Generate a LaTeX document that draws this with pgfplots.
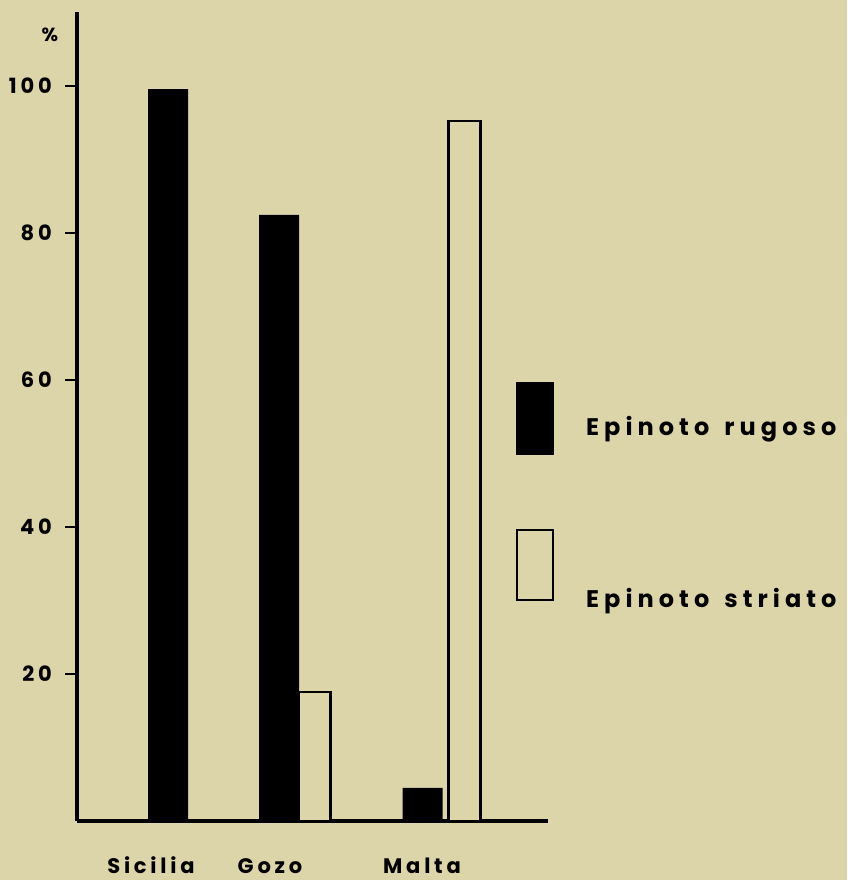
\documentclass[border=0pt]{standalone}
\usepackage{fontspec}
\setmainfont{Poppins}[LetterSpace=18]
\usepackage{pgfplots}
\pgfplotsset{compat=1.18}
\definecolor{paper}{RGB}{221,213,170}
\begin{document}
\begin{tikzpicture}[x=1pt,y=1pt,font=\bfseries]
\fill[paper] (0,0) rectangle (847,880);
\path[use as bounding box] (0,0) rectangle (847,880);
\begin{axis}[
  at={(77pt,59pt)}, anchor=south west,
  scale only axis, width=471pt, height=809pt,
  xmin=77, xmax=548, ymin=0, ymax=110,
  axis x line*=bottom, axis y line*=left,
  axis line style={line width=3.5pt, -},
  ytick={20,40,60,80,100},
  tick align=outside, major tick length=12pt,
  ytick style={line width=2pt, black},
  xtick={151,270,422},
  xticklabels={Sicilia,Gozo,Malta},
  xtick style={draw=none},
  xticklabel style={anchor=base, yshift=-41pt},
  yticklabel style={anchor=east, inner sep=0pt, xshift=-13pt},
  tick label style={font=\bfseries\fontsize{21}{26}\selectfont},
  /pgf/number format/assume math mode=true,
  clip=false,
]
% Epinoto rugoso
\addplot[ybar, bar shift=0pt, bar width=40, fill=black, draw=none]
  coordinates {(168,99.5) (279,82.4) (422.5,4.5)};
% Epinoto striato
\addplot[ybar, bar shift=0pt, bar width=32, fill=paper, draw=black, line width=2.2pt]
  coordinates {(314.5,17.5) (464.5,95.2)};
\end{axis}
\node[font=\bfseries\fontsize{19}{24}\selectfont] at (50,845) {\%};
% legend
\fill[black] (516,425) rectangle (554,498);
\draw[line width=2pt, fill=paper] (517,280) rectangle (553,350);
\node[anchor=base west, inner sep=0pt, font=\bfseries\fontsize{24}{30}\selectfont\addfontfeature{LetterSpace=21}] at (586,444) {Epinoto \hspace{5pt}rugoso};
\node[anchor=base west, inner sep=0pt, font=\bfseries\fontsize{24}{30}\selectfont\addfontfeature{LetterSpace=21}] at (586,272) {Epinoto \hspace{5pt}striato};
\end{tikzpicture}
\end{document}
